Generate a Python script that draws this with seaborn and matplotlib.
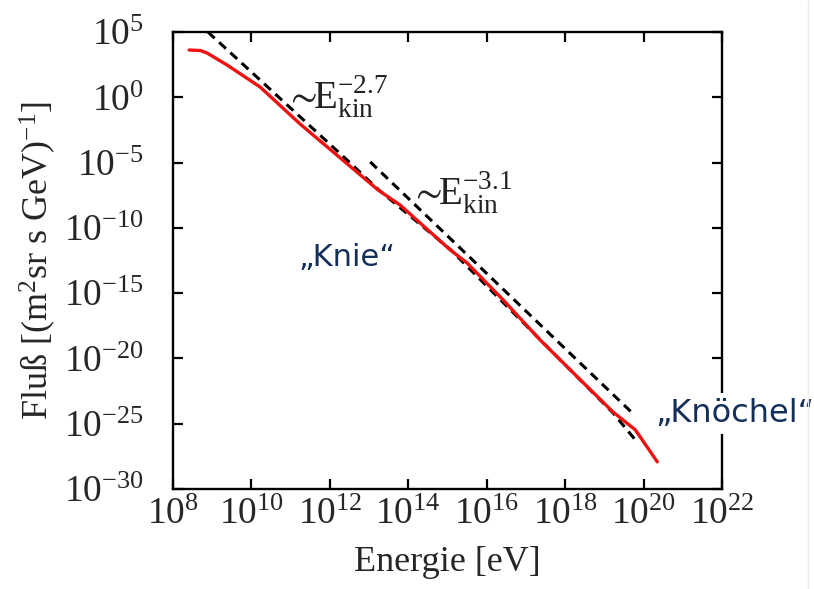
import numpy as np
import pandas as pd
import seaborn as sns
import matplotlib
matplotlib.use("Agg")
import matplotlib.pyplot as plt
from matplotlib.ticker import FixedLocator, NullLocator, LogFormatterSciNotation

# ---- data (log10 values) ----
spec_log_e = [8.41, 8.70, 8.87, 9.38, 10.22, 11.24, 13.23, 13.79, 15.07, 15.50,
              16.42, 17.36, 18.26, 19.22, 19.79, 20.35]
spec_log_f = [3.62, 3.58, 3.39, 2.47, 0.79, -2.04, -7.10, -8.25, -11.69, -12.69,
              -15.52, -18.58, -21.26, -24.10, -25.47, -27.92]

fit27_log_e = [8.89, 12.52, 13.23, 15.07, 17.36, 19.22, 19.79]
fit27_log_f = [5.0, -5.03, -7.05, -11.65, -18.55, -24.17, -26.24]

fit31_log_e = [13.03, 19.71]
fit31_log_f = [-4.95, -24.17]

x_ticks_exp = [8, 10, 12, 14, 16, 18, 20, 22]
y_ticks_exp = [-30, -25, -20, -15, -10, -5, 0, 5]

label_27 = r"$\sim\!\!\mathrm{E}_{\mathrm{kin}}^{-2.7}$"
label_31 = r"$\sim\!\!\mathrm{E}_{\mathrm{kin}}^{-3.1}$"
label_knie = "\u201eKnie\u201c"
label_knoechel = "\u201eKnöchel\u201c"
x_label = "Energie [eV]"
y_label = r"Fluß [(m$^2$sr s GeV)$^{-1}$]"

# ---- style ----
sns.set_style("ticks")
plt.rcParams["font.family"] = ["Liberation Serif", "DejaVu Serif"]
plt.rcParams["mathtext.fontset"] = "custom"
plt.rcParams["mathtext.rm"] = "Liberation Serif"
plt.rcParams["mathtext.it"] = "Liberation Serif:italic"
plt.rcParams["mathtext.default"] = "regular"

fig = plt.figure(figsize=(8.14, 5.89), dpi=100)
ax = fig.add_axes([173/814, 1-489/589, (722-173)/814, (489-32)/589])
ax.set_xscale("log")
ax.set_yscale("log")

df27 = pd.DataFrame({"E": np.power(10.0, fit27_log_e), "F": np.power(10.0, fit27_log_f)})
df31 = pd.DataFrame({"E": np.power(10.0, fit31_log_e), "F": np.power(10.0, fit31_log_f)})
dfs = pd.DataFrame({"E": np.power(10.0, spec_log_e), "F": np.power(10.0, spec_log_f)})

sns.lineplot(data=df27, x="E", y="F", ax=ax, color="black", sort=False,
             estimator=None, linewidth=2.2, linestyle="--", zorder=2)
ax.lines[-1].set_dashes([3.0, 2.0])
sns.lineplot(data=df31, x="E", y="F", ax=ax, color="black", sort=False,
             estimator=None, linewidth=2.2, linestyle="--", zorder=2)
ax.lines[-1].set_dashes([3.0, 2.0])
sns.lineplot(data=dfs, x="E", y="F", ax=ax, color="#ee1111", sort=False,
             estimator=None, linewidth=2.4, zorder=3)

ax.set_xlim(1e8, 1e22)
ax.set_ylim(1e-30, 1e5)
ax.xaxis.set_major_locator(FixedLocator([10.0**k for k in x_ticks_exp]))
ax.yaxis.set_major_locator(FixedLocator([10.0**k for k in y_ticks_exp]))
ax.xaxis.set_minor_locator(NullLocator())
ax.yaxis.set_minor_locator(NullLocator())
ax.xaxis.set_major_formatter(LogFormatterSciNotation())
ax.yaxis.set_major_formatter(LogFormatterSciNotation())

ax.tick_params(axis="both", which="major", direction="in", length=7, width=1.6,
               top=True, right=True, labelsize=27, color="black")
ax.tick_params(axis="x", pad=6)
ax.tick_params(axis="y", pad=21)
for s in ax.spines.values():
    s.set_linewidth(1.7)
    s.set_color("black")

ax.set_xlabel(x_label, fontsize=26, labelpad=10)
ax.set_ylabel(y_label, fontsize=26, labelpad=4)

ax.text((285-173)/549, (489-108)/457, label_27, transform=ax.transAxes,
        fontsize=28, va="baseline", ha="left", color="#222222")
ax.text((410-173)/549, (489-204)/457, label_31, transform=ax.transAxes,
        fontsize=28, va="baseline", ha="left", color="#222222")

navy = "#14305a"
ax.text((298-173)/549, (489-266)/457, label_knie, transform=ax.transAxes,
        fontsize=22, va="baseline", ha="left", color=navy, family="DejaVu Sans")
ax.text((655-173)/549, (489-422)/457, label_knoechel, transform=ax.transAxes,
        fontsize=23, va="baseline", ha="left", color=navy, family="DejaVu Sans",
        clip_on=False, zorder=10,
        bbox=dict(facecolor="white", edgecolor="none", pad=4))

fig.add_artist(plt.Line2D([808/814, 808/814], [0, 1], transform=fig.transFigure,
                          color="#ececec", linewidth=1))

fig.savefig("out.png", dpi=100)
